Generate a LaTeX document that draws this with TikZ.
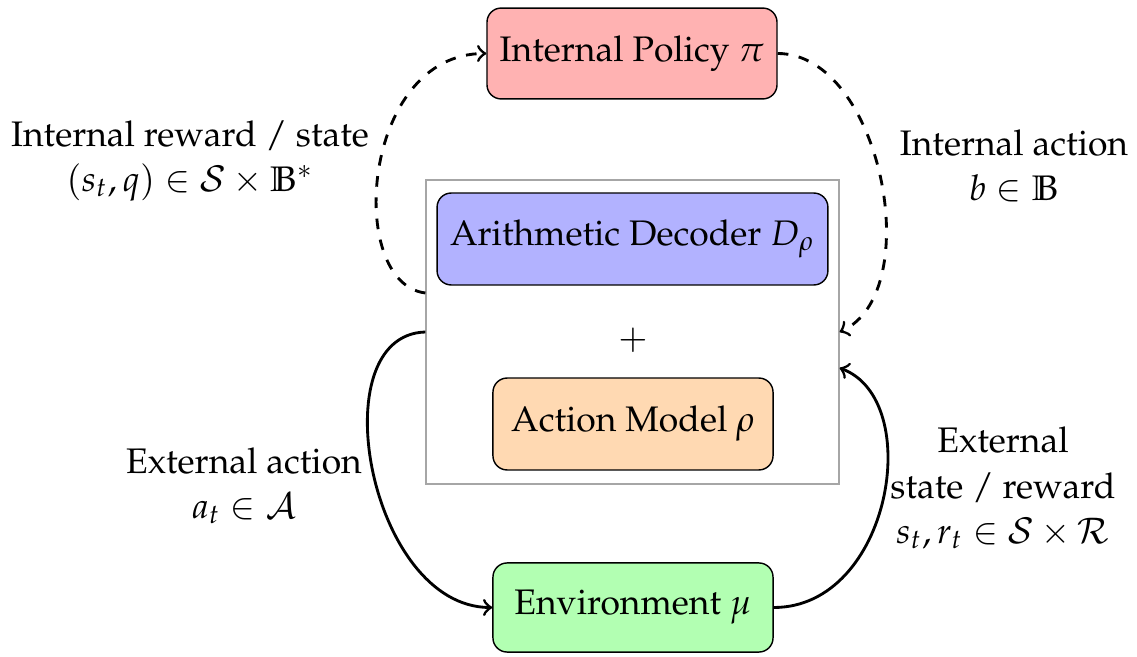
\documentclass[tikz,border=0pt]{standalone}
\usepackage[T1]{fontenc}
\usepackage{mathpazo}
\usetikzlibrary{calc}
\tikzset{
  blockbox/.style={draw=black, rounded corners=4pt, inner sep=0pt},
  frame/.style={draw=gray!70, inner sep=0pt, minimum width=116.3pt, minimum height=85.6pt},
  lbl/.style={align=center, inner sep=0pt, font=\fontsize{10}{12.7}\selectfont},
  conn/.style={thick, ->},
}
\begin{document}
\begin{tikzpicture}[x=0.2817pt, y=-0.2817pt]
\useasboundingbox (0,0) rectangle (1137,657);
\node[frame] (g) at (632.5,332) {};
\node[blockbox, fill=red!30, minimum width=81.7pt, minimum height=25.6pt] (pol) at (632,53.5) {Internal Policy $\pi$};
\node[blockbox, fill=blue!30, minimum width=110.1pt, minimum height=25.9pt] (dec) at (632.5,239) {Arithmetic Decoder $D_\rho$};
\node[inner sep=0pt] (plus) at (633,340) {$+$};
\node[blockbox, fill=orange!30, minimum width=78.9pt, minimum height=25.9pt] (am) at (633,424) {Action Model $\rho$};
\node[blockbox, fill=green!30, minimum width=78.9pt, minimum height=25.1pt] (env) at (633,607.5) {Environment $\mu$};
\node[lbl] (l1) at (190,161) {Internal reward / state\\$(s_t, q) \in \mathcal{S} \times \mathbb{B}^*$};
\node[lbl] (l2) at (1014,166) {Internal action\\$b \in \mathbb{B}$};
\node[lbl] (l3) at (244,486) {External action\\$a_t \in \mathcal{A}$};
\node[lbl] (l4) at (1003,488) {External\\state / reward\\$s_t, r_t \in \mathcal{S} \times \mathcal{R}$};
\draw[conn, dashed] ($(g.west)+(0,-39)$) .. controls +(-80,-10) and +(-125,0) .. (pol.west);
\draw[conn, dashed] (pol.east) .. controls +(103,0) and +(88,-40) .. (g.east);
\draw[conn] (g.west) .. controls +(-106,3) and +(-123,0) .. (env.west);
\draw[conn] (env.east) .. controls +(117,0) and +(86,32) .. ($(g.east)+(0,36)$);
\end{tikzpicture}
\end{document}
